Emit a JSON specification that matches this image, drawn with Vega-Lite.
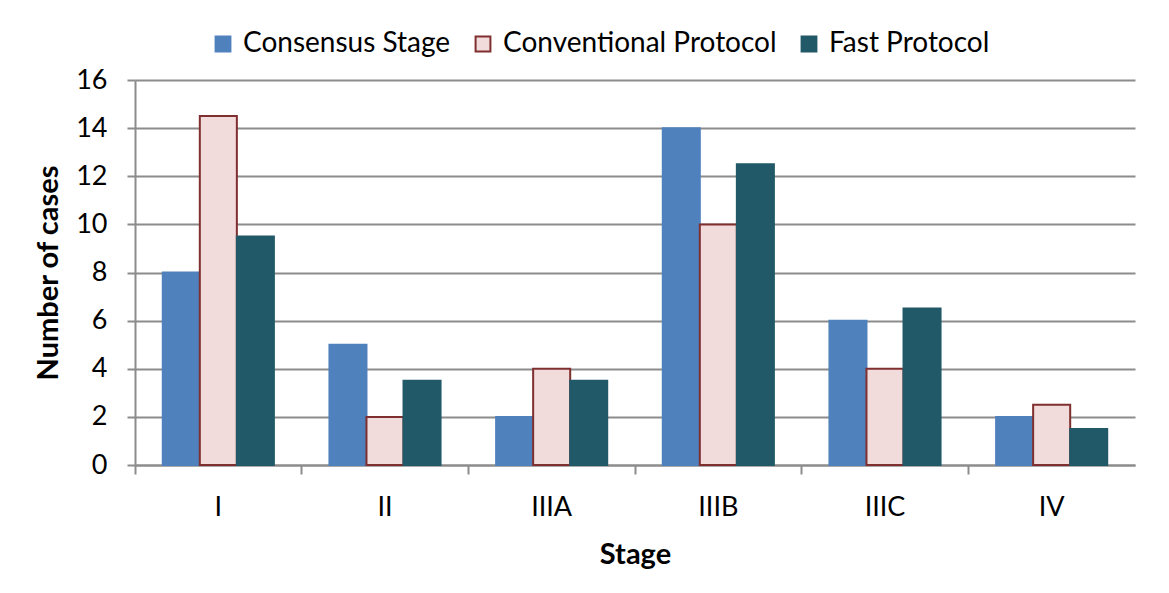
{
  "$schema": "https://vega.github.io/schema/vega-lite/v6.json",
  "autosize": {"type": "none"},
  "width": 1000,
  "height": 385,
  "padding": {"left": 135, "top": 80, "right": 34, "bottom": 128},
  "background": "white",
  "config": {
    "font": "Lato",
    "view": {"stroke": null}
  },
  "data": {
    "values": [
      {"stage": "I", "series": "Consensus Stage", "cases": 8},
      {"stage": "I", "series": "Conventional Protocol", "cases": 14.5},
      {"stage": "I", "series": "Fast Protocol", "cases": 9.5},
      {"stage": "II", "series": "Consensus Stage", "cases": 5},
      {"stage": "II", "series": "Conventional Protocol", "cases": 2},
      {"stage": "II", "series": "Fast Protocol", "cases": 3.5},
      {"stage": "IIIA", "series": "Consensus Stage", "cases": 2},
      {"stage": "IIIA", "series": "Conventional Protocol", "cases": 4},
      {"stage": "IIIA", "series": "Fast Protocol", "cases": 3.5},
      {"stage": "IIIB", "series": "Consensus Stage", "cases": 14},
      {"stage": "IIIB", "series": "Conventional Protocol", "cases": 10},
      {"stage": "IIIB", "series": "Fast Protocol", "cases": 12.5},
      {"stage": "IIIC", "series": "Consensus Stage", "cases": 6},
      {"stage": "IIIC", "series": "Conventional Protocol", "cases": 4},
      {"stage": "IIIC", "series": "Fast Protocol", "cases": 6.5},
      {"stage": "IV", "series": "Consensus Stage", "cases": 2},
      {"stage": "IV", "series": "Conventional Protocol", "cases": 2.5},
      {"stage": "IV", "series": "Fast Protocol", "cases": 1.5}
    ]
  },
  "mark": {"type": "bar"},
  "encoding": {
    "x": {
      "field": "stage",
      "type": "nominal",
      "sort": ["I", "II", "IIIA", "IIIB", "IIIC", "IV"],
      "scale": {"paddingInner": 0, "paddingOuter": 0},
      "axis": {
        "title": "Stage",
        "titleFontSize": 29,
        "titleFontWeight": "bold",
        "titleColor": "black",
        "titlePadding": 20,
        "labelAngle": 0,
        "labelFontSize": 27,
        "labelColor": "black",
        "labelPadding": 20,
        "bandPosition": 0,
        "tickSize": 9,
        "tickColor": "#8c8c8c",
        "tickWidth": 2,
        "domainColor": "#8c8c8c",
        "domainWidth": 2,
        "grid": false
      }
    },
    "xOffset": {
      "field": "series",
      "type": "nominal",
      "scale": {"paddingInner": 0, "paddingOuter": 0.75}
    },
    "y": {
      "field": "cases",
      "type": "quantitative",
      "scale": {"domain": [0, 16]},
      "axis": {
        "title": "Number of cases",
        "titleFontSize": 29,
        "titleFontWeight": "bold",
        "titleColor": "black",
        "titlePadding": 12,
        "values": [0, 2, 4, 6, 8, 10, 12, 14, 16],
        "labelFontSize": 27,
        "labelColor": "black",
        "labelPadding": 20,
        "tickSize": 8,
        "tickColor": "#8c8c8c",
        "tickWidth": 2,
        "domainColor": "#8c8c8c",
        "domainWidth": 2,
        "grid": true,
        "gridColor": "#8c8c8c",
        "gridWidth": 2
      }
    },
    "color": {
      "field": "series",
      "type": "nominal",
      "scale": {
        "domain": ["Consensus Stage", "Conventional Protocol", "Fast Protocol"],
        "range": ["#4f81bd", "#f2dcdb", "#215968"]
      },
      "legend": {
        "title": null,
        "orient": "none",
        "legendX": 74,
        "legendY": -50,
        "direction": "horizontal",
        "symbolType": "square",
        "symbolSize": 220,
        "symbolStrokeWidth": 2,
        "labelFontSize": 28,
        "labelColor": "black",
        "labelLimit": 0,
        "labelOffset": 6,
        "columnPadding": 18
      }
    },
    "stroke": {
      "field": "series",
      "type": "nominal",
      "scale": {
        "domain": ["Consensus Stage", "Conventional Protocol", "Fast Protocol"],
        "range": ["#4f81bd", "#7f2f2f", "#215968"]
      },
      "legend": {
        "title": null,
        "orient": "none",
        "legendX": 74,
        "legendY": -50,
        "direction": "horizontal",
        "symbolType": "square",
        "symbolSize": 220,
        "symbolStrokeWidth": 2,
        "labelFontSize": 28,
        "labelColor": "black",
        "labelLimit": 0,
        "labelOffset": 6,
        "columnPadding": 18
      }
    },
    "strokeWidth": {"value": 2}
  }
}
